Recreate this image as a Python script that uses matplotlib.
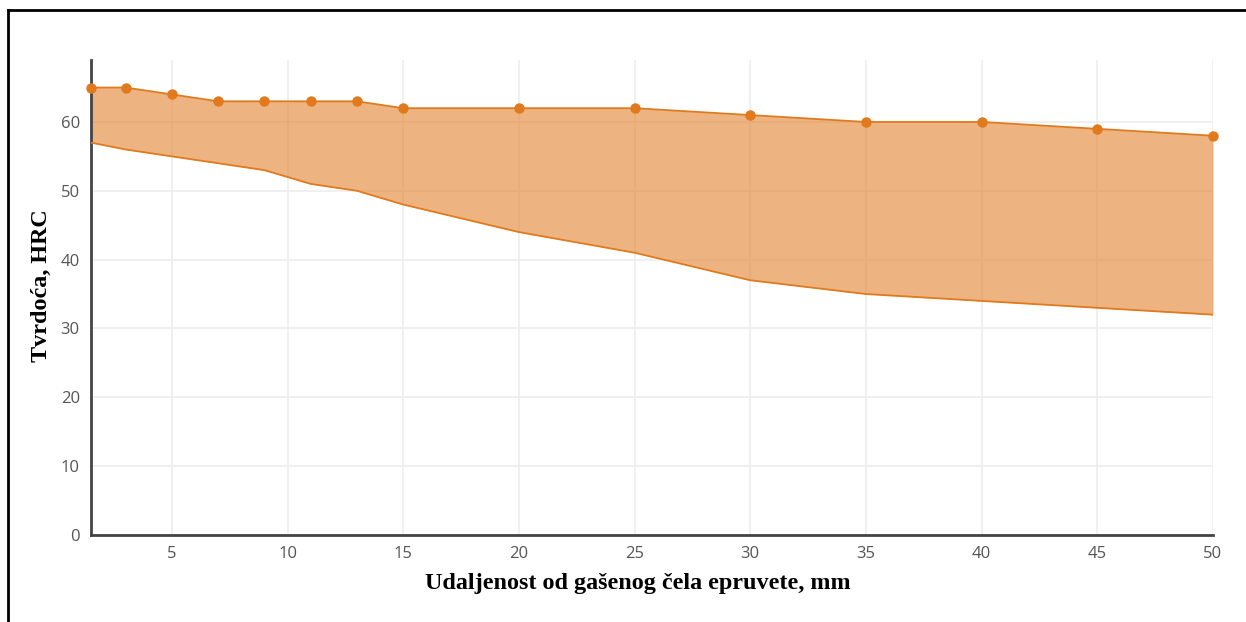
import matplotlib.pyplot as plt
from matplotlib.lines import Line2D

# distance from quenched end (mm) and hardness band (HRC)
distance = [1.5, 3, 5, 7, 9, 11, 13, 15, 20, 25, 30, 35, 40, 45, 50]
hrc_max = [65, 65, 64, 63, 63, 63, 63, 62, 62, 62, 61, 60, 60, 59, 58]
hrc_min = [57, 56, 55, 54, 53, 51, 50, 48, 44, 41, 37, 35, 34, 33, 32]
x_ticks = [5, 10, 15, 20, 25, 30, 35, 40, 45, 50]
y_ticks = [0, 10, 20, 30, 40, 50, 60]

line_color = '#e07a1c'

fig = plt.figure(figsize=(12.46, 6.22), dpi=100)
ax = fig.add_axes([0.073, 0.14, 0.9005, 0.7635])

ax.fill_between(distance, hrc_min, hrc_max, color='#e2832f', alpha=0.6, linewidth=0, zorder=2)
ax.plot(distance, hrc_min, color=line_color, linewidth=1.3, zorder=3)
ax.plot(distance, hrc_max, color=line_color, linewidth=1.3, marker='o', markersize=6.5, zorder=4,
        clip_on=False)

ax.set_xlim(1.5, 50)
ax.set_ylim(0, 69)
ax.set_xticks(x_ticks)
ax.set_yticks(y_ticks)
ax.grid(True, color='#eeeeee', linewidth=1.2, zorder=0)
ax.set_axisbelow(True)

for side in ['top', 'right']:
    ax.spines[side].set_visible(False)
for side in ['left', 'bottom']:
    ax.spines[side].set_color('#444444')
    ax.spines[side].set_linewidth(2)

ax.tick_params(length=0, labelsize=12, labelcolor='#555555', pad=8)
for lbl in ax.get_xticklabels() + ax.get_yticklabels():
    lbl.set_family('Open Sans')

xl = ax.set_xlabel('Udaljenost od gašenog čela epruvete, mm', family='Liberation Serif',
                   fontweight='bold', fontsize=17.4)
yl = ax.set_ylabel('Tvrdoća, HRC', family='Liberation Serif', fontweight='bold', fontsize=17.4)
xl.set_verticalalignment('center')
yl.set_verticalalignment('center')
ax.xaxis.set_label_coords(0.4875, -0.103)
ax.yaxis.set_label_coords(-0.0437, 0.524)

# frame of the screenshot: top and left edges only
fig.add_artist(Line2D([8 / 1246, 1], [1 - 10 / 622, 1 - 10 / 622], color='black', linewidth=2))
fig.add_artist(Line2D([8 / 1246, 8 / 1246], [0, 1 - 10 / 622], color='black', linewidth=2))

fig.savefig('out.png', dpi=100)
